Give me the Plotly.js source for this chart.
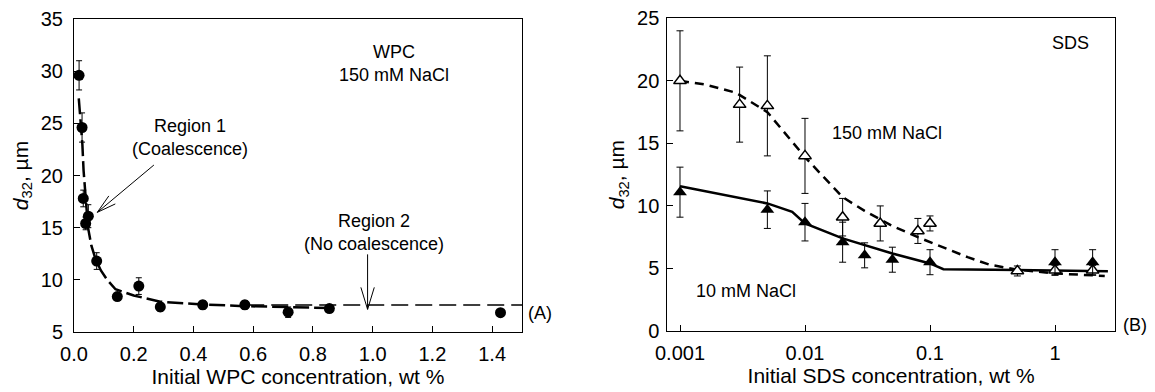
<!DOCTYPE html>
<html>
<head>
<meta charset="utf-8">
<script src="https://cdn.plot.ly/plotly-3.0.1.min.js"></script>
<style>html,body{margin:0;padding:0;background:#fff;}#chart{width:1155px;height:392px;}</style>
</head>
<body>
<div id="chart"></div>
<script>
// ---- Panel A: WPC, 150 mM NaCl ----
const wpcConc = [0.017, 0.027, 0.031, 0.039, 0.048, 0.076, 0.145, 0.217, 0.289, 0.431, 0.572, 0.717, 0.855, 1.428];
const wpcD32  = [29.6, 24.6, 17.8, 15.4, 16.1, 11.8, 8.4, 9.4, 7.4, 7.6, 7.6, 6.9, 7.25, 6.85];
const wpcErr  = [1.4, 1.4, 0.8, 0.6, 1.1, 0.8, 0.3, 0.8, 0.4, 0.4, 0.4, 0.5, 0.2, 0];
const wpcFitX = [0.016, 0.022, 0.028, 0.032, 0.036, 0.041, 0.047, 0.058, 0.072, 0.09, 0.111, 0.139, 0.2, 0.289, 0.43, 0.57, 0.72, 0.86];
const wpcFitY = [27.4, 25.5, 23, 20.5, 18.8, 16.8, 15, 13.3, 12, 10.9, 10, 9.1, 8.5, 7.9, 7.64, 7.48, 7.36, 7.3];
const wpcPlateauX = [0.58, 1.5];
const wpcPlateauY = [7.58, 7.58];
const wpcTicks = [0, 0.2, 0.4, 0.6, 0.8, 1.0, 1.2, 1.4];

// ---- Panel B: SDS ----
const sdsConc150 = [0.001, 0.003, 0.005, 0.01, 0.02, 0.04, 0.08, 0.1, 0.5, 1, 2];
const sdsD150    = [20, 18.1, 18, 14, 9.1, 8.6, 8.0, 8.6, 4.8, 4.85, 4.85];
const sdsErr150  = [4, 3, 4, 3, 1.5, 1.4, 1, 0.6, 0.4, 0.4, 0.4];
const sdsConc10  = [0.001, 0.005, 0.01, 0.02, 0.03, 0.05, 0.1, 1, 2];
const sdsD10     = [11.1, 9.7, 8.7, 7.1, 6.05, 5.7, 5.5, 5.5, 5.5];
const sdsErr10   = [2, 1.5, 1.5, 1.6, 1, 1, 1, 1, 1];
const fit150X = [0.001, 0.0016, 0.0028, 0.005, 0.01, 0.02, 0.03, 0.05, 0.08, 0.1, 0.2, 0.3, 0.5, 1, 2.5];
const fit150Y = [20, 19.7, 19.05, 17.5, 13.9, 10.7, 9.6, 8.4, 7.5, 7.1, 5.9, 5.3, 4.9, 4.6, 4.4];
const fit10X  = [0.001, 0.005, 0.0079, 0.01, 0.02, 0.05, 0.1, 0.128, 2.65];
const fit10Y  = [11.58, 10.2, 9.53, 8.6, 7.4, 6.2, 5.4, 4.94, 4.78];
const sdsTickVals = [0.001, 0.01, 0.1, 1];
const sdsTickText = ['0.001', '0.01', '0.1', '1'];

const FONT = 'Arial, "Liberation Sans", sans-serif';
const black = '#000';

const traces = [
  {x: wpcFitX, y: wpcFitY, mode: 'lines', line: {color: black, width: 2.5, dash: '16px,5px'}, xaxis: 'x', yaxis: 'y'},
  {x: wpcPlateauX, y: wpcPlateauY, mode: 'lines', line: {color: black, width: 1.5, dash: '17px,7px'}, xaxis: 'x', yaxis: 'y'},
  {x: wpcConc, y: wpcD32, mode: 'markers', marker: {symbol: 'circle', size: 11, color: black},
   error_y: {type: 'data', array: wpcErr, visible: true, color: black, thickness: 1, width: 3}, xaxis: 'x', yaxis: 'y'},
  {x: fit150X, y: fit150Y, mode: 'lines', line: {color: black, width: 2.5, dash: '9px,6px'}, xaxis: 'x2', yaxis: 'y2'},
  {x: fit10X, y: fit10Y, mode: 'lines', line: {color: black, width: 2.5}, xaxis: 'x2', yaxis: 'y2'},
  {x: sdsConc150, y: sdsD150, mode: 'markers', marker: {symbol: 'triangle-up', size: 11, color: '#fff', line: {color: black, width: 1.5}},
   error_y: {type: 'data', array: sdsErr150, visible: true, color: black, thickness: 1, width: 3.5}, xaxis: 'x2', yaxis: 'y2'},
  {x: sdsConc10, y: sdsD10, mode: 'markers', marker: {symbol: 'triangle-up', size: 12, color: black},
   error_y: {type: 'data', array: sdsErr10, visible: true, color: black, thickness: 1, width: 3.5}, xaxis: 'x2', yaxis: 'y2'}
];

const axisCommon = {
  showline: true, mirror: true, linecolor: black, linewidth: 1,
  ticks: 'inside', ticklen: 6, tickcolor: black, showgrid: false, zeroline: false,
  tickfont: {family: FONT, size: 20, color: black}
};
const titleFont = {family: FONT, size: 21, color: black};
const yTitle = '<i>d</i><sub>32</sub>, µm';

// arrow line segments in pixel offsets from an anchor point (data coords)
function seg(xref, yref, ax, ay, dx, dy) {
  return {type: 'line', xref: xref, yref: yref, xsizemode: 'pixel', ysizemode: 'pixel',
          xanchor: ax, yanchor: ay, x0: 0, y0: 0, x1: dx, y1: dy,
          line: {color: black, width: 1}};
}
function textAnn(x, y, text, xref, yref, size) {
  return {x: x, y: y, xref: xref, yref: yref, text: text, showarrow: false,
          font: {family: FONT, size: size || 18, color: black}, xanchor: 'center', yanchor: 'middle'};
}

const layout = {
  width: 1155, height: 392,
  margin: {l: 0, r: 0, t: 0, b: 0},
  paper_bgcolor: '#fff', plot_bgcolor: '#fff',
  showlegend: false,
  font: {family: FONT, color: black},
  xaxis: Object.assign({}, axisCommon, {
    domain: [74/1155, 522/1155], range: [0, 1.5], tickvals: wpcTicks, tickformat: '.1f', anchor: 'y',
    ticklabelstandoff: 4,
    title: {text: 'Initial WPC concentration, wt %', font: titleFont, standoff: 2}
  }),
  yaxis: Object.assign({}, axisCommon, {
    domain: [60/392, 373/392], range: [5, 35], dtick: 5, anchor: 'x',
    ticklabelstandoff: 6,
    title: {text: yTitle, font: titleFont, standoff: 6}
  }),
  xaxis2: Object.assign({}, axisCommon, {
    domain: [667.3/1155, 1115/1155], type: 'log', range: [-3.1016, 0.48], anchor: 'y2',
    tickvals: sdsTickVals, ticktext: sdsTickText, ticklabelstandoff: 4,
    title: {text: 'Initial SDS concentration, wt %', font: titleFont, standoff: 2}
  }),
  yaxis2: Object.assign({}, axisCommon, {
    domain: [61/392, 373.7/392], range: [0, 25], dtick: 5, anchor: 'x2',
    ticklabelstandoff: 3,
    title: {text: yTitle, font: titleFont, standoff: 6}
  }),
  shapes: [
    seg('x', 'y', 0.078, 16.47, 56.6, 47.3),
    seg('x', 'y', 0.078, 16.47, 18, 8.4),
    seg('x', 'y', 0.078, 16.47, 11.5, 16.4),
    seg('x', 'y', 0.983, 7.17, 0, 55),
    seg('x', 'y', 0.983, 7.17, -6.7, 22),
    seg('x', 'y', 0.983, 7.17, 6.7, 22)
  ],
  annotations: [
    textAnn(1.072, 30.75, 'WPC<br>150 mM NaCl', 'x', 'y'),
    textAnn(0.389, 23.62, 'Region 1<br>(Coalescence)', 'x', 'y'),
    textAnn(1.006, 14.53, 'Region 2<br>(No coalescence)', 'x', 'y'),
    textAnn(540/1155, 1 - 313/392, '(A)', 'paper', 'paper'),
    textAnn(0.12, 23, 'SDS', 'x2', 'y2'),
    textAnn(-1.346, 15.8, '150 mM NaCl', 'x2', 'y2'),
    textAnn(-2.476, 3.18, '10 mM NaCl', 'x2', 'y2'),
    textAnn(1135/1155, 1 - 325/392, '(B)', 'paper', 'paper')
  ]
};

Plotly.newPlot('chart', traces, layout, {staticPlot: true, displayModeBar: false});
</script>
</body>
</html>
